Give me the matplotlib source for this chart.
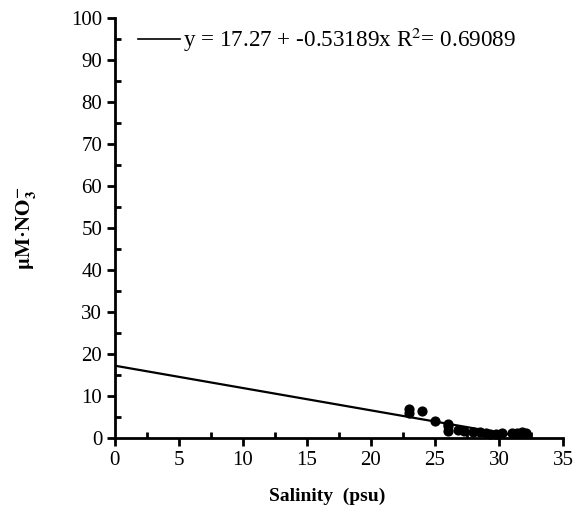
import numpy as np
import matplotlib
matplotlib.use("Agg")
import matplotlib.pyplot as plt
from matplotlib.ticker import MultipleLocator

plt.rcParams['font.family'] = ['Liberation Serif', 'DejaVu Serif']
plt.rcParams['mathtext.fontset'] = 'stix'

# Nitrate vs salinity observations
salinity = [23.0, 23.0, 24.0, 25.0, 26.0, 26.0, 26.0, 26.8, 27.3, 28.0,
            28.5, 29.0, 29.3, 29.8, 30.2, 31.0, 31.4, 31.8, 32.1]
nitrate = [7.0, 6.0, 6.5, 4.2, 3.5, 2.8, 1.8, 1.9, 1.7, 1.6,
           1.4, 1.2, 1.0, 1.1, 1.2, 1.2, 1.3, 1.4, 1.3]

# Linear fit reported for the data
intercept = 17.27
slope = -0.53189
r_squared = 0.69089
fit_range = [0, 32]

fig = plt.figure(figsize=(5.74, 5.18), dpi=100)
ax = fig.add_axes([0.200, 0.154, 0.781, 0.811])

xf = np.array(fit_range, dtype=float)
ax.plot(xf, intercept + slope * xf, color='black', lw=1.6)
ax.scatter(salinity, nitrate, s=40, color='black', zorder=3, clip_on=False)

ax.set_xlim(0, 35)
ax.set_ylim(0, 100)
ax.xaxis.set_major_locator(MultipleLocator(5))
ax.xaxis.set_minor_locator(MultipleLocator(2.5))
ax.yaxis.set_major_locator(MultipleLocator(10))
ax.yaxis.set_minor_locator(MultipleLocator(5))

for s in ('top', 'right'):
    ax.spines[s].set_visible(False)
for s in ('left', 'bottom'):
    ax.spines[s].set_linewidth(2)

ax.tick_params(which='major', direction='out', length=6, width=2,
               labelsize=15, pad=3)
ax.tick_params(which='minor', direction='in', length=4, width=2)

ax.set_xlabel('Salinity  (psu)', fontsize=14, fontweight='bold')
ax.xaxis.set_label_coords(0.473, -0.118)
ax.set_ylabel(r'$\mathbf{\mu M}$·$\mathbf{NO_3^{-}}$', fontsize=15,
              fontweight='bold')
ax.yaxis.set_label_coords(-0.172, 0.5)

# legend line and equation text
ax.plot([1.8, 5.1], [95.0, 95.0], color='black', lw=1.2)
ax.text(5.3, 94.8,
        f'y = {intercept:.2f} + {slope:.5f}x R$^2$= {r_squared:.5f}',
        fontsize=16.7, va='center', ha='left')

fig.savefig('out.png', dpi=100)
